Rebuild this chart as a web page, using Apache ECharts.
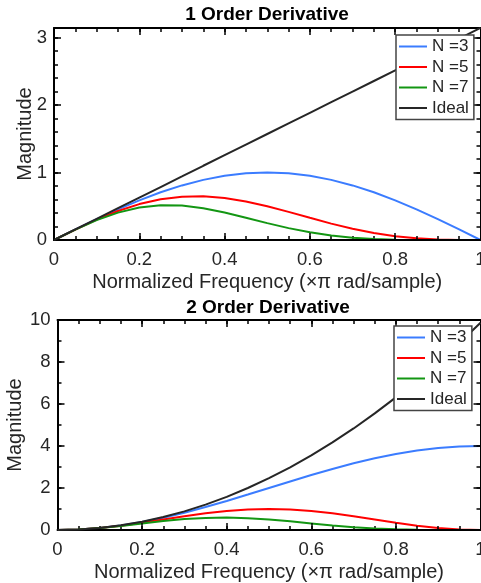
<!DOCTYPE html>
<html>
<head>
<meta charset="utf-8">
<script src="https://cdn.jsdelivr.net/npm/echarts@6/dist/echarts.min.js"></script>
<style>
html,body{margin:0;padding:0;background:#fff;}
#c{width:481px;height:583px;}
</style>
</head>
<body>
<div id="c"></div>
<script>
// Normalized frequency samples (x pi rad/sample)
const freq = [0,0.05,0.1,0.15,0.2,0.25,0.3,0.35,0.4,0.45,0.5,0.55,0.6,0.65,0.7,0.75,0.8,0.85,0.9,0.95,1];
const seriesNames = ['N =3','N =5','N =7','Ideal'];

// 1st order derivative magnitudes
const d1_N3 = [0,0.156,0.309,0.454,0.588,0.707,0.809,0.891,0.951,0.988,1.000,0.988,0.951,0.891,0.809,0.707,0.588,0.454,0.309,0.156,0];
const d1_N5 = [0,0.155,0.301,0.429,0.532,0.604,0.642,0.648,0.623,0.571,0.500,0.417,0.329,0.243,0.167,0.104,0.056,0.025,0.008,0.001,0];
const d1_N7 = [0,0.154,0.294,0.406,0.481,0.515,0.510,0.471,0.407,0.330,0.250,0.176,0.114,0.066,0.034,0.015,0.005,0.001,0.0002,0,0];
const d1_Ideal = [0,0.157,0.314,0.471,0.628,0.785,0.942,1.100,1.257,1.414,1.571,1.728,1.885,2.042,2.199,2.356,2.513,2.670,2.827,2.985,3.142];

// 2nd order derivative magnitudes
const d2_N3 = [0,0.025,0.098,0.218,0.382,0.586,0.824,1.092,1.382,1.687,2.000,2.313,2.618,2.908,3.176,3.414,3.618,3.782,3.902,3.975,4.000];
const d2_N5 = [0,0.025,0.096,0.206,0.346,0.500,0.655,0.794,0.905,0.976,1.000,0.976,0.905,0.794,0.655,0.500,0.346,0.206,0.096,0.025,0];
const d2_N7 = [0,0.024,0.093,0.195,0.313,0.427,0.520,0.577,0.592,0.564,0.500,0.412,0.313,0.217,0.135,0.073,0.033,0.011,0.002,0.0002,0];
const d2_Ideal = [0,0.025,0.099,0.222,0.395,0.617,0.888,1.209,1.579,1.999,2.467,2.986,3.553,4.170,4.836,5.552,6.317,7.131,7.995,8.908,9.870];

const titles = ['1 Order Derivative','2 Order Derivative'];
const xName = 'Normalized Frequency (×π rad/sample)';
const yName = 'Magnitude';
const yMax1 = 3.1416, yMax2 = 10;

const colors = ['#3b7cff','#ff0000','#139613','#262626'];
const FONT = 'Liberation Sans, Arial, Helvetica, sans-serif';
const TXT = '#262626';
const TICK = 18.5, NAMEF = 20;

function pairs(ys){ return freq.map((x,i)=>[x, ys[i]]); }

function tickFmt(interval){
  return v => (Math.abs(v/interval - Math.round(v/interval))<1e-6 ? String(+v.toFixed(4)) : '');
}

function axis(kind, grid, pos, max, interval, len, opts){
  opts = opts || {};
  const a = {
    type:'value', gridIndex:grid, position:pos, min:0, max:max, interval:interval,
    axisLine:{show:!!opts.line, onZero:false, lineStyle:{color:'#000', width:2}},
    axisTick:{show:true, inside:true, length:len, lineStyle:{color:'#000', width:1.5}},
    minorTick:{show:false},
    splitLine:{show:false},
    axisLabel:{show:!!opts.labels, color:TXT, fontSize:TICK, fontFamily:FONT,
      margin: kind==='x' ? 10 : 7, formatter:tickFmt(interval)},
    name: opts.name || '', nameLocation:'middle', nameGap:opts.nameGap||0,
    nameMoveOverlap:false,
    nameTextStyle:{color:TXT, fontSize:NAMEF, fontFamily:FONT},
    z: opts.line ? 5 : 4
  };
  if (kind==='y') a.nameRotate = 90;
  return a;
}

const xAxes = [
  axis('x',0,'bottom',1,0.2,7,{line:true, labels:true, name:xName, nameGap:32}), // 0
  axis('x',0,'bottom',1,0.05,4),                                                 // 1
  axis('x',0,'top',1,0.2,7,{line:true}),                                         // 2
  axis('x',0,'top',1,0.05,4),                                                    // 3
  axis('x',1,'bottom',1,0.2,7,{line:true, labels:true, name:xName, nameGap:32}), // 4
  axis('x',1,'bottom',1,0.05,4),                                                 // 5
  axis('x',1,'top',1,0.2,7,{line:true}),                                         // 6
  axis('x',1,'top',1,0.05,4)                                                     // 7
];
const yAxes = [
  axis('y',0,'left',yMax1,1,7,{line:true, labels:true, name:yName, nameGap:19}), // 0
  axis('y',0,'left',yMax1,0.2,4),                                                // 1
  axis('y',0,'right',yMax1,1,7,{line:true}),                                     // 2
  axis('y',0,'right',yMax1,0.2,4),                                               // 3
  axis('y',1,'left',yMax2,2,7,{line:true, labels:true, name:yName, nameGap:32}), // 4
  axis('y',1,'left',yMax2,1,4),                                                  // 5
  axis('y',1,'right',yMax2,2,7,{line:true}),                                     // 6
  axis('y',1,'right',yMax2,1,4)                                                  // 7
];

const top1 = [d1_N3,d1_N5,d1_N7,d1_Ideal];
const top2 = [d2_N3,d2_N5,d2_N7,d2_Ideal];
const series = [];
top1.forEach((d,i)=>series.push({type:'line', name:seriesNames[i], xAxisIndex:0, yAxisIndex:0,
  data:pairs(d), showSymbol:false, symbol:'none', lineStyle:{color:colors[i], width:2}, itemStyle:{color:colors[i]}, z:2+i, animation:false, clip:true}));
top2.forEach((d,i)=>series.push({type:'line', name:seriesNames[i], xAxisIndex:4, yAxisIndex:4,
  data:pairs(d), showSymbol:false, symbol:'none', lineStyle:{color:colors[i], width:2}, itemStyle:{color:colors[i]}, z:2+i, animation:false, clip:true}));

function legend(left, top){
  return {
    data:seriesNames, orient:'vertical', left:left, top:top,
    padding:[3,5,3,3], itemWidth:28, itemHeight:2, itemGap:3.5, icon:'rect',
    selectedMode:false, backgroundColor:'#fff', borderColor:'#444', borderWidth:1.5, borderRadius:0,
    textStyle:{color:TXT, fontSize:17, fontFamily:FONT, lineHeight:17}, z:10
  };
}

const chart = echarts.init(document.getElementById('c'), null, {renderer:'canvas'});
chart.setOption({
  animation:false,
  backgroundColor:'#fff',
  title:[
    {text:titles[0], left:267, top:5, padding:0, textAlign:'center', textStyle:{fontSize:19, fontWeight:'bold', color:'#000', fontFamily:FONT}},
    {text:titles[1], left:268, top:298, padding:0, textAlign:'center', textStyle:{fontSize:19, fontWeight:'bold', color:'#000', fontFamily:FONT}}
  ],
  grid:[
    {left:54, right:0.5, top:28, height:212, outerBoundsMode:'none', containLabel:false},
    {left:57.5, right:0.5, top:320, height:210, outerBoundsMode:'none', containLabel:false}
  ],
  legend:[legend(396,35), legend(394,326)],
  xAxis:xAxes,
  yAxis:yAxes,
  series:series
});
</script>
</body>
</html>
